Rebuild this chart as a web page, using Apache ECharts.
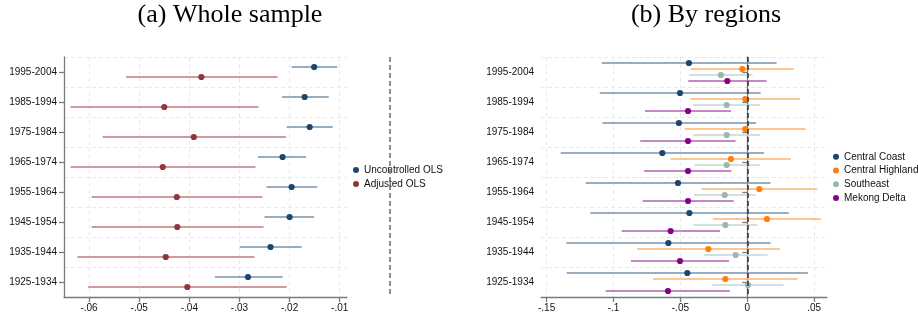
<!DOCTYPE html>
<html>
<head>
<meta charset="utf-8">
<script src="https://cdn.jsdelivr.net/npm/echarts@6/dist/echarts.min.js"></script>
<style>html,body{margin:0;padding:0;background:#fff}#c{width:918px;height:322px}</style>
</head>
<body>
<div id="c"></div>
<script>
const cats = ['1995-2004','1985-1994','1975-1984','1965-1974','1955-1964','1945-1954','1935-1944','1925-1934'];

// (a) Whole sample
const uncEst = [-0.0151,-0.0170,-0.0160,-0.0214,-0.0196,-0.0200,-0.0238,-0.0283];
const uncLo  = [-0.0196,-0.0215,-0.0206,-0.0263,-0.0246,-0.0250,-0.0299,-0.0349];
const uncHi  = [-0.0105,-0.0122,-0.0114,-0.0167,-0.0145,-0.0151,-0.0176,-0.0214];
const adjEst = [-0.0376,-0.0450,-0.0391,-0.0453,-0.0425,-0.0424,-0.0447,-0.0404];
const adjLo  = [-0.0526,-0.0637,-0.0573,-0.0637,-0.0595,-0.0595,-0.0623,-0.0602];
const adjHi  = [-0.0224,-0.0262,-0.0207,-0.0268,-0.0254,-0.0252,-0.0270,-0.0206];

// (b) By regions
const ccEst = [-0.0436,-0.0503,-0.0511,-0.0635,-0.0518,-0.0433,-0.0590,-0.0448];
const ccLo  = [-0.1088,-0.1103,-0.1083,-0.1395,-0.1208,-0.1173,-0.1352,-0.1350];
const ccHi  = [0.0219,0.0100,0.0065,0.0125,0.0174,0.0311,0.0174,0.0453];
const chEst = [-0.0037,-0.0015,-0.0015,-0.0122,0.0090,0.0147,-0.0291,-0.0164];
const chLo  = [-0.0421,-0.0426,-0.0466,-0.0573,-0.0344,-0.0257,-0.0824,-0.0705];
const chHi  = [0.0346,0.0394,0.0436,0.0326,0.0523,0.0550,0.0244,0.0376];
const seEst = [-0.0197,-0.0154,-0.0154,-0.0154,-0.0169,-0.0164,-0.0087,0.0005];
const seLo  = [-0.0436,-0.0403,-0.0403,-0.0396,-0.0399,-0.0403,-0.0324,-0.0262];
const seHi  = [0.0040,0.0097,0.0097,0.0092,0.0062,0.0077,0.0152,0.0271];
const mdEst = [-0.0149,-0.0443,-0.0443,-0.0443,-0.0443,-0.0573,-0.0503,-0.0593];
const mdLo  = [-0.0441,-0.0765,-0.0800,-0.0770,-0.0782,-0.0939,-0.0869,-0.1059];
const mdHi  = [0.0144,-0.0122,-0.0087,-0.0120,-0.0102,-0.0204,-0.0137,-0.0130];

const ticksA = [-0.06,-0.05,-0.04,-0.03,-0.02,-0.01];
const tickLabelsA = ['-.06','-.05','-.04','-.03','-.02','-.01'];
const ticksB = [-0.15,-0.1,-0.05,0,0.05];
const tickLabelsB = ['-.15','-.1','-.05','0','.05'];

const FONT = 'Liberation Sans, Arial, sans-serif';
const SERIF = 'Liberation Serif, Times New Roman, serif';

function build(est, lo, hi) {
  return cats.map((c, i) => [est[i], c, lo[i], hi[i]]);
}

function ciSeries(name, est, lo, hi, dot, line, offset, axisIdx) {
  return {
    type: 'custom', name: name,
    xAxisIndex: axisIdx, yAxisIndex: axisIdx,
    itemStyle: { color: dot },
    encode: { x: [0, 2, 3], y: 1 },
    data: build(est, lo, hi),
    renderItem: function (params, api) {
      const yi = api.value(1);
      const p0 = api.coord([api.value(2), yi]);
      const p1 = api.coord([api.value(3), yi]);
      const pc = api.coord([api.value(0), yi]);
      return {
        type: 'group',
        children: [
          { type: 'line', shape: { x1: p0[0], y1: p0[1] + offset, x2: p1[0], y2: p1[1] + offset },
            style: { stroke: line, lineWidth: 1.6 } },
          { type: 'circle', shape: { cx: pc[0], cy: pc[1] + offset, r: 3.1 },
            style: { fill: dot } }
        ]
      };
    }
  };
}

function fmt(vals, labels) {
  return function (v) {
    for (let i = 0; i < vals.length; i++) if (Math.abs(vals[i] - v) < 1e-9) return labels[i];
    return '';
  };
}

const axisLineStyle = { color: '#7a7a7a', width: 1.3 };
const gridLine = { show: true, lineStyle: { color: '#e9e9e9', type: [4, 3], width: 1 } };

function xAx(grid, min, max, vals, labels) {
  return {
    type: 'value', gridIndex: grid, min: min, max: max,
    axisLine: { show: true, lineStyle: axisLineStyle },
    axisTick: { show: true, length: 5, lineStyle: axisLineStyle, customValues: vals },
    axisLabel: { customValues: vals, formatter: fmt(vals, labels), color: '#111', fontFamily: FONT, fontSize: 10, margin: 6 },
    splitLine: gridLine
  };
}
function yAx(grid) {
  return {
    type: 'category', gridIndex: grid, data: cats, inverse: true,
    axisLine: { show: true, lineStyle: axisLineStyle },
    axisTick: { show: true, length: 5, alignWithLabel: true, lineStyle: axisLineStyle },
    axisLabel: { color: '#111', fontFamily: FONT, fontSize: 10, margin: 7 },
    splitLine: gridLine
  };
}

const chart = echarts.init(document.getElementById('c'));
chart.setOption({
  animation: false,
  backgroundColor: '#fff',
  title: [
    { text: '(a) Whole sample', left: 225, top: -3, textAlign: 'center',
      textStyle: { fontFamily: SERIF, fontSize: 26, fontWeight: 'normal', color: '#000' } },
    { text: '(b) By regions', left: 701, top: -3, textAlign: 'center',
      textStyle: { fontFamily: SERIF, fontSize: 26, fontWeight: 'normal', color: '#000' } }
  ],
  legend: [
    { orient: 'vertical', left: 353, top: 163, padding: 0, itemWidth: 6, itemHeight: 6, itemGap: 0, selectedMode: false,
      textStyle: { fontFamily: FONT, fontSize: 10, color: '#111', lineHeight: 14, overflow: 'none', width: 120 },
      data: [{ name: 'Uncontrolled OLS', icon: 'circle' }, { name: 'Adjusted OLS', icon: 'circle' }] },
    { orient: 'vertical', left: 833, top: 150, padding: 0, itemWidth: 6, itemHeight: 6, itemGap: 0, selectedMode: false,
      textStyle: { fontFamily: FONT, fontSize: 10, color: '#111', lineHeight: 13.7, overflow: 'none', width: 120 },
      data: [{ name: 'Central Coast', icon: 'circle' }, { name: 'Central Highland', icon: 'circle' },
             { name: 'Southeast', icon: 'circle' }, { name: 'Mekong Delta', icon: 'circle' }] }
  ],
  grid: [
    { left: 64, top: 57, width: 283, height: 240 },
    { left: 64, top: 57, width: 331, height: 240 },
    { left: 541, top: 57, width: 286, height: 240 }
  ],
  xAxis: [
    xAx(0, -0.065, -0.00855, ticksA, tickLabelsA),
    { type: 'value', gridIndex: 1, min: -0.065, max: 0.001, show: false, splitLine: { show: false } },
    xAx(2, -0.1542, 0.0596, ticksB, tickLabelsB)
  ],
  yAxis: [
    yAx(0),
    { type: 'category', gridIndex: 1, data: cats, inverse: true, show: false, splitLine: { show: false } },
    yAx(2)
  ],
  series: [
    ciSeries('Uncontrolled OLS', uncEst, uncLo, uncHi, '#1a476f', '#7791ab', -5, 0),
    ciSeries('Adjusted OLS', adjEst, adjLo, adjHi, '#90353b', '#c27a7e', 5, 0),
    {
      type: 'line', xAxisIndex: 1, yAxisIndex: 1, data: [], silent: true,
      markLine: { silent: true, symbol: 'none', label: { show: false },
        lineStyle: { color: '#6a6a6a', type: [5, 3], width: 1.5 },
        data: [{ xAxis: 0 }] }
    },
    ciSeries('Central Coast', ccEst, ccLo, ccHi, '#1a476f', '#7a91a8', -9, 2),
    ciSeries('Central Highland', chEst, chLo, chHi, '#ff7f0e', '#ffb36e', -3, 2),
    ciSeries('Southeast', seEst, seLo, seHi, '#9ab8ae', '#c5d6d0', 3, 2),
    ciSeries('Mekong Delta', mdEst, mdLo, mdHi, '#8b008b', '#b060b0', 9, 2),
    {
      type: 'line', xAxisIndex: 2, yAxisIndex: 2, data: [], silent: true,
      markLine: { silent: true, symbol: 'none', label: { show: false },
        lineStyle: { color: '#333', type: [5, 3], width: 1.5 },
        data: [{ xAxis: 0 }] }
    }
  ]
});
</script>
</body>
</html>
